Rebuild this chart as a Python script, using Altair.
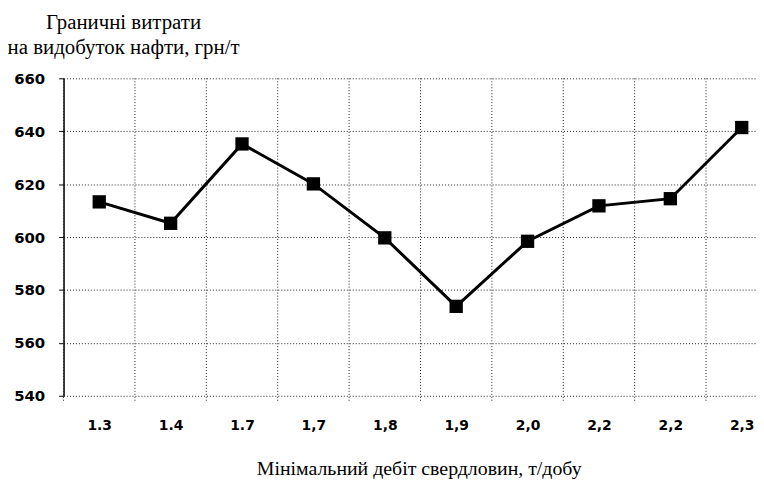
import altair as alt
import pandas as pd

labels = ["1.3", "1.4", "1.7", "1,7", "1,8", "1,9", "2,0", "2,2", "2,2", "2,3"]
costs = [613.3, 605.2, 635.2, 620.1, 599.7, 573.8, 598.4, 611.8, 614.5, 641.4]
y_ticks = [540, 560, 580, 600, 620, 640, 660]

df = pd.DataFrame({"i": list(range(len(labels))), "label": labels, "cost": costs})
bounds = pd.DataFrame({"i": [i - 0.5 for i in range(len(labels))]})

xscale = alt.Scale(domain=[-0.5, 9.2], nice=False, zero=False)
yscale = alt.Scale(domain=[540, 660], nice=False, zero=False)

label_expr = "[" + ",".join("'" + l + "'" for l in labels) + "][datum.value]"

tick_font = "DejaVu Sans"
serif = "Liberation Serif"
x_title = "Мінімальний дебіт свердловин, т/добу"

x_axis = alt.Axis(
    values=list(range(len(labels))),
    labelExpr=label_expr,
    ticks=False,
    grid=False,
    domain=False,
    labelFont=tick_font,
    labelFontSize=14,
    labelFontWeight="bold",
    labelColor="black",
    labelPadding=23,
    title=x_title,
    titleFont=serif,
    titleFontSize=20,
    titleFontWeight="normal",
    titleColor="black",
    titleX=358,
    titleY=79,
    titleAlign="center",
    titleBaseline="alphabetic",
)

grid = alt.Chart(bounds).mark_rule(color="#222", strokeDash=[1, 2], strokeWidth=1).encode(
    x=alt.X("i:Q", scale=xscale, axis=x_axis, title=x_title),
    y=alt.value(0),
    y2=alt.value(325),
)

base = alt.Chart(df).encode(
    x=alt.X("i:Q", scale=xscale, axis=x_axis, title=x_title),
    y=alt.Y(
        "cost:Q",
        scale=yscale,
        axis=alt.Axis(
            values=y_ticks,
            grid=True,
            gridDash=[1, 2],
            gridColor="#222",
            gridWidth=1,
            gridOpacity=1,
            tickSize=5,
            tickColor="black",
            domainColor="black",
            domainWidth=1.5,
            labelFont=tick_font,
            labelFontSize=15,
            labelFontWeight="bold",
            labelColor="black",
            labelPadding=14,
            title=["Граничні витрати", "на видобуток нафти, грн/т"],
            titleFont=serif,
            titleFontSize=21,
            titleFontWeight="normal",
            titleColor="black",
            titleAngle=0,
            titleAlign="center",
            titleBaseline="alphabetic",
            titleLineHeight=25,
            titleX=60,
            titleY=-50,
        ),
    ),
)

line = base.mark_line(color="black", strokeWidth=3)
pts = base.mark_square(color="black", size=180, opacity=1, filled=True)

chart = alt.layer(grid, line, pts).properties(
    width=698,
    height=320,
    autosize=alt.AutoSizeParams(type="none"),
    padding={"left": 56, "top": 69, "right": 0, "bottom": 83},
    background="white",
).configure_view(stroke=None)

chart.save("out.html", embed_options={"renderer": "svg", "actions": False})
